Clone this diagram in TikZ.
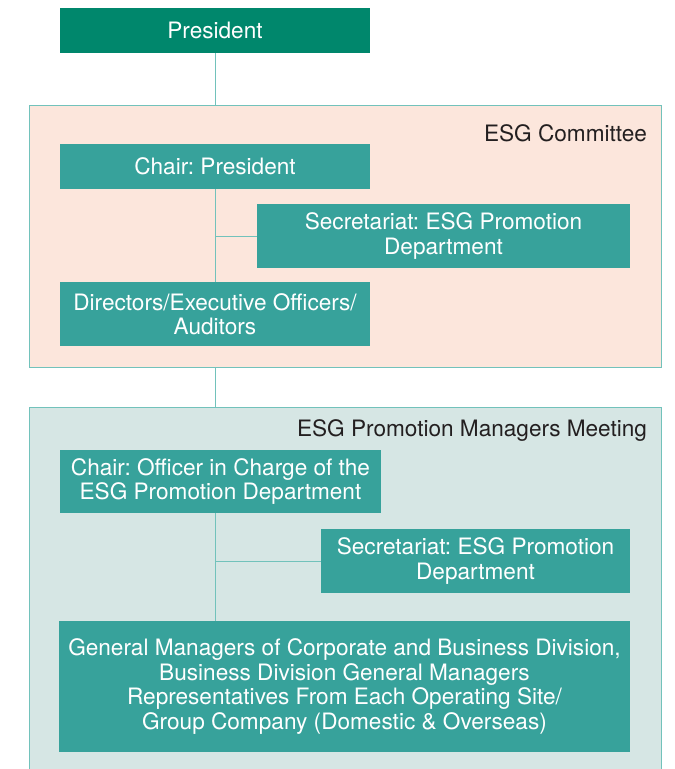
\documentclass[tikz,border=0pt]{standalone}
\usepackage{fontspec}
\setmainfont{TeX Gyre Heros}
\usetikzlibrary{calc}
\frenchspacing
\definecolor{presgreen}{HTML}{00876C}
\definecolor{boxteal}{HTML}{37A29B}
\definecolor{linkteal}{HTML}{72C2BB}
\definecolor{committeefill}{HTML}{FCE6DC}
\definecolor{meetingfill}{HTML}{D6E6E4}
\definecolor{headtext}{HTML}{231F20}
\begin{document}
\begin{tikzpicture}[x=1pt,y=-1pt,
  every node/.style={inner sep=0pt,outer sep=0pt},
  label text/.style={font=\fontsize{22.6}{24.5}\selectfont\frenchspacing},
  unit/.style={rectangle,fill=boxteal,text=white,align=center,label text},
  group/.style={rectangle,draw=linkteal,line width=1pt},
  head/.style={text=headtext,anchor=east,label text},
  link/.style={draw=linkteal,line width=0.9pt}]
\useasboundingbox (0,0) rectangle (675,769);

% top of the hierarchy
\node[unit,fill=presgreen,minimum width=310pt,minimum height=45pt] (pres) at (215,30.5) {President};

% ESG Committee panel
\node[group,fill=committeefill,minimum width=632pt,minimum height=262pt] (comm) at (345,236) {};
\node[head] (commhead) at (647,133) {ESG Committee};
\node[unit,minimum width=310pt,minimum height=45pt] (chair1) at (215,166.5) {Chair: President};
\node[unit,minimum width=373pt,minimum height=64pt] (sec1) at (443.5,236) {Secretariat: ESG Promotion\\Department};
\node[unit,minimum width=310pt,minimum height=64pt] (dir) at (215,314) {Directors/Executive Officers/\\Auditors};

% ESG Promotion Managers Meeting panel (runs past the lower edge)
\node[group,fill=meetingfill,minimum width=632pt,minimum height=380pt] (meet) at (345,597) {};
\node[head] (meethead) at (647,431) {ESG Promotion Managers Meeting};
\node[unit,minimum width=321pt,minimum height=63pt] (chair2) at (220.5,481.5) {Chair: Officer in Charge of the\\ESG Promotion Department};
\node[unit,minimum width=309pt,minimum height=64pt] (sec2) at (475.5,561) {Secretariat: ESG Promotion\\Department};
\node[unit,minimum width=571pt,minimum height=131pt] (gm) at (344.5,686.5) {General Managers of Corporate and Business Division,\\Business Division General Managers\\Representatives From Each Operating Site/\\Group Company (Domestic \& Overseas)};

% connectors
\draw[link] (pres.south) -- (pres.south |- comm.north);
\draw[link] (chair1.south) -- (dir.north);
\draw[link] (chair1.south |- sec1.west) -- (sec1.west);
\draw[link] (comm.south -| pres.south) -- (pres.south |- meet.north);
\coordinate (stem) at ([xshift=155.5pt]chair2.south west);
\draw[link] (stem) -- (stem |- gm.north);
\draw[link] (stem |- sec2.west) -- (sec2.west);
\end{tikzpicture}
\end{document}
